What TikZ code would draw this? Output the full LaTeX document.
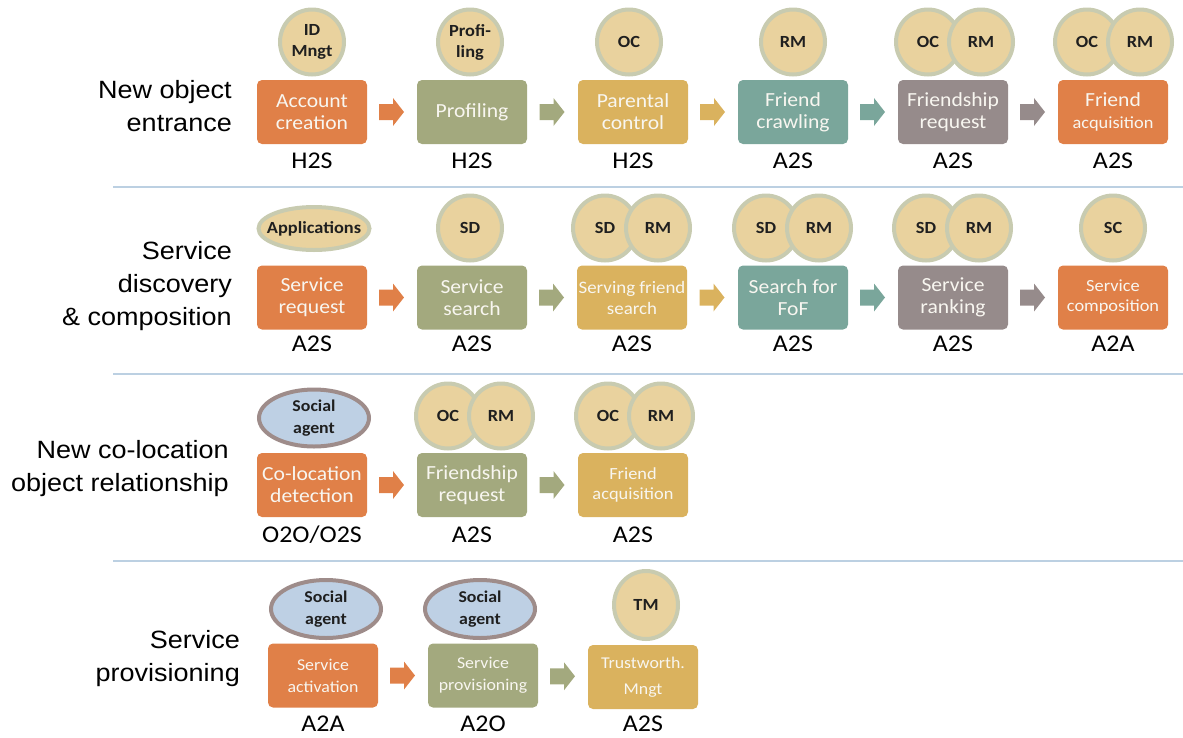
\documentclass[tikz,border=0pt]{standalone}
\usepackage{fontspec}
\setmainfont[FakeStretch=1.08]{Carlito}
\newfontfamily\labelfont[FakeStretch=1.08]{Liberation Sans}
\usetikzlibrary{shapes.geometric,calc}

\definecolor{cOrange}{HTML}{E08048}
\definecolor{cOlive}{HTML}{A3A97E}
\definecolor{cGold}{HTML}{DAB25E}
\definecolor{cTeal}{HTML}{7AA69B}
\definecolor{cGray}{HTML}{968B8B}
\definecolor{boxText}{HTML}{F8F6F0}
\definecolor{modFill}{HTML}{E9D29E}
\definecolor{modBorder}{HTML}{C8CBB0}
\definecolor{agFill}{HTML}{BED0E4}
\definecolor{agBorder}{HTML}{9E8C8A}
\definecolor{sepColor}{HTML}{BCD0E2}
\definecolor{inkDark}{HTML}{1F1F1F}

% block arrow placed halfway between two boxes, pointing right
\newcommand\flowarrow[3]{%
  \fill[#3] ($(#1.east)!0.5!(#2.west)$) ++(-13,-8) -- ++(14,0) -- ++(0,-6)
    -- ++(11,14) -- ++(-11,14) -- ++(0,-6) -- ++(-14,0) -- cycle;}

\tikzset{
  stepbox/.style={rectangle, rounded corners=5pt, minimum width=110pt,
    minimum height=64pt, inner sep=1pt, text=boxText, align=center,
    font=\fontsize{20}{22}\selectfont},
  smalltext/.style={font=\fontsize{17}{20}\selectfont},
  module/.style={ellipse, draw=modBorder, fill=modFill, line width=4pt,
    minimum width=64pt, minimum height=65pt, inner sep=0pt, align=center,
    text=inkDark, font=\bfseries\fontsize{17}{21}\selectfont},
  agent/.style={ellipse, draw=agBorder, fill=agFill, line width=4pt,
    minimum width=110pt, minimum height=57pt, inner sep=0pt, align=center,
    text=inkDark, font=\bfseries\fontsize{16.5}{22}\selectfont},
  proto/.style={anchor=base, inner sep=0pt, font=\fontsize{24}{26}\selectfont},
  rowlabel/.style={anchor=east, inner sep=0pt, align=right,
    font=\labelfont\fontsize{25}{33}\selectfont},
  separator/.style={draw=sepColor, line width=2.5pt}
}

\begin{document}
\begin{tikzpicture}[x=1pt,y=-1pt]
\useasboundingbox (0,0) rectangle (1183,737);

% separators between the four scenarios
\draw[separator] (113,187) -- (1183,187);
\draw[separator] (113,374) -- (1183,374);
\draw[separator] (113,561) -- (1183,561);

% scenario titles
\node[rowlabel] (t1) at (232,106) {New object\\entrance};
\node[rowlabel] (t2) at (232,286) {Service\\discovery\\\& composition};
\node[rowlabel] (t3) at (229,469) {New co-location\\object relationship};
\node[rowlabel] (t4) at (240,659) {Service\\provisioning};

% ---------- scenario 1 ----------
\node[stepbox, fill=cOrange] (a1) at (312,112) {Account\\creation};
\node[stepbox, fill=cOlive]  (a2) at (472,112) {Profiling};
\node[stepbox, fill=cGold]   (a3) at (633,112) {Parental\\control};
\node[stepbox, fill=cTeal]   (a4) at (793,112) {Friend\\crawling};
\node[stepbox, fill=cGray]   (a5) at (953,112) {Friendship\\request};
\node[stepbox, fill=cOrange] (a6) at (1113,112) {Friend\\{\fontsize{17}{20}\selectfont acquisition}};

\node[module] (ma1) at ($(a1)+(0,-70)$) {ID\\Mngt};
\node[module] (ma2) at ($(a2)+(-2,-70)$) {Profi-\\ling};
\node[module] (ma3) at ($(a3)+(-4,-70)$) {OC};
\node[module] (ma4) at ($(a4)+(0,-70)$) {RM};
\node[module] (ma5l) at ($(a5)+(-25,-70)$) {OC};
\node[module] (ma5r) at ($(a5)+(28,-70)$) {RM};
\node[module] (ma6l) at ($(a6)+(-26,-70)$) {OC};
\node[module] (ma6r) at ($(a6)+(27,-70)$) {RM};

\flowarrow{a1}{a2}{cOrange}
\flowarrow{a2}{a3}{cOlive}
\flowarrow{a3}{a4}{cGold}
\flowarrow{a4}{a5}{cTeal}
\flowarrow{a5}{a6}{cGray}

\node[proto] (pa1) at ($(a1.south)+(0,24)$) {H2S};
\node[proto] (pa2) at ($(a2.south)+(0,24)$) {H2S};
\node[proto] (pa3) at ($(a3.south)+(0,24)$) {H2S};
\node[proto] (pa4) at ($(a4.south)+(0,24)$) {A2S};
\node[proto] (pa5) at ($(a5.south)+(0,24)$) {A2S};
\node[proto] (pa6) at ($(a6.south)+(0,24)$) {A2S};

% ---------- scenario 2 ----------
\node[stepbox, fill=cOrange] (b1) at (312,297.5) {Service\\request};
\node[stepbox, fill=cOlive]  (b2) at (472,297.5) {Service\\search};
\node[stepbox, fill=cGold, font=\fontsize{17.5}{21}\selectfont] (b3) at (632,297.5) {Serving friend\\search};
\node[stepbox, fill=cTeal]   (b4) at (793,297.5) {Search for\\FoF};
\node[stepbox, fill=cGray]   (b5) at (953,297.5) {Service\\ranking};
\node[stepbox, fill=cOrange, smalltext] (b6) at (1113,297.5) {Service\\composition};

\node[module, minimum width=111pt, minimum height=43pt, inner xsep=-8pt] (mb1) at ($(b1)+(2,-69)$) {Applications};
\node[module] (mb2) at ($(b2)+(-2,-69.5)$) {SD};
\node[module] (mb3l) at ($(b3)+(-27,-69.5)$) {SD};
\node[module] (mb3r) at ($(b3)+(26,-69.5)$) {RM};
\node[module] (mb4l) at ($(b4)+(-27,-69.5)$) {SD};
\node[module] (mb4r) at ($(b4)+(26,-69.5)$) {RM};
\node[module] (mb5l) at ($(b5)+(-27,-69.5)$) {SD};
\node[module] (mb5r) at ($(b5)+(26,-69.5)$) {RM};
\node[module] (mb6) at ($(b6)+(0,-69.5)$) {SC};

\flowarrow{b1}{b2}{cOrange}
\flowarrow{b2}{b3}{cOlive}
\flowarrow{b3}{b4}{cGold}
\flowarrow{b4}{b5}{cTeal}
\flowarrow{b5}{b6}{cGray}

\node[proto] (pb1) at ($(b1.south)+(0,22)$) {A2S};
\node[proto] (pb2) at ($(b2.south)+(0,22)$) {A2S};
\node[proto] (pb3) at ($(b3.south)+(0,22)$) {A2S};
\node[proto] (pb4) at ($(b4.south)+(0,22)$) {A2S};
\node[proto] (pb5) at ($(b5.south)+(0,22)$) {A2S};
\node[proto] (pb6) at ($(b6.south)+(0,22)$) {A2A};

% ---------- scenario 3 ----------
\node[stepbox, fill=cOrange] (c1) at (312,485) {Co-location\\detection};
\node[stepbox, fill=cOlive]  (c2) at (472,485) {Friendship\\request};
\node[stepbox, fill=cGold, smalltext] (c3) at (633,485) {Friend\\acquisition};

\node[agent] (mc1) at ($(c1)+(2,-67)$) {Social\\agent};
\node[module] (mc2l) at ($(c2)+(-24,-69)$) {OC};
\node[module] (mc2r) at ($(c2)+(29,-69)$) {RM};
\node[module] (mc3l) at ($(c3)+(-25,-69)$) {OC};
\node[module] (mc3r) at ($(c3)+(28,-69)$) {RM};

\flowarrow{c1}{c2}{cOrange}
\flowarrow{c2}{c3}{cOlive}

\node[proto] (pc1) at ($(c1.south)+(0,25)$) {O2O/O2S};
\node[proto] (pc2) at ($(c2.south)+(0,25)$) {A2S};
\node[proto] (pc3) at ($(c3.south)+(0,25)$) {A2S};

% ---------- scenario 4 ----------
\node[stepbox, fill=cOrange, font=\fontsize{16.5}{22}\selectfont] (d1) at (323,675.5) {Service\\activation};
\node[stepbox, fill=cOlive, font=\fontsize{16.5}{22}\selectfont]  (d2) at (483,675.5) {Service\\provisioning};
\node[stepbox, fill=cGold, font=\fontsize{16.5}{26}\selectfont]   (d3) at (643,677) {Trustworth.\\Mngt};

\node[agent, minimum height=58pt] (md1) at ($(d1)+(3,-66.5)$) {Social\\agent};
\node[agent, minimum height=58pt] (md2) at ($(d2)+(-3,-66.5)$) {Social\\agent};
\node[module, minimum height=68pt] (md3) at ($(d3)+(3,-72)$) {TM};

\flowarrow{d1}{d2}{cOrange}
\flowarrow{d2}{d3}{cOlive}

\node[proto] (pd1) at ($(d1.south)+(0,24)$) {A2A};
\node[proto] (pd2) at ($(d2.south)+(0,24)$) {A2O};
\node[proto] (pd3) at ($(d3.south)+(0,22.5)$) {A2S};
\end{tikzpicture}
\end{document}
